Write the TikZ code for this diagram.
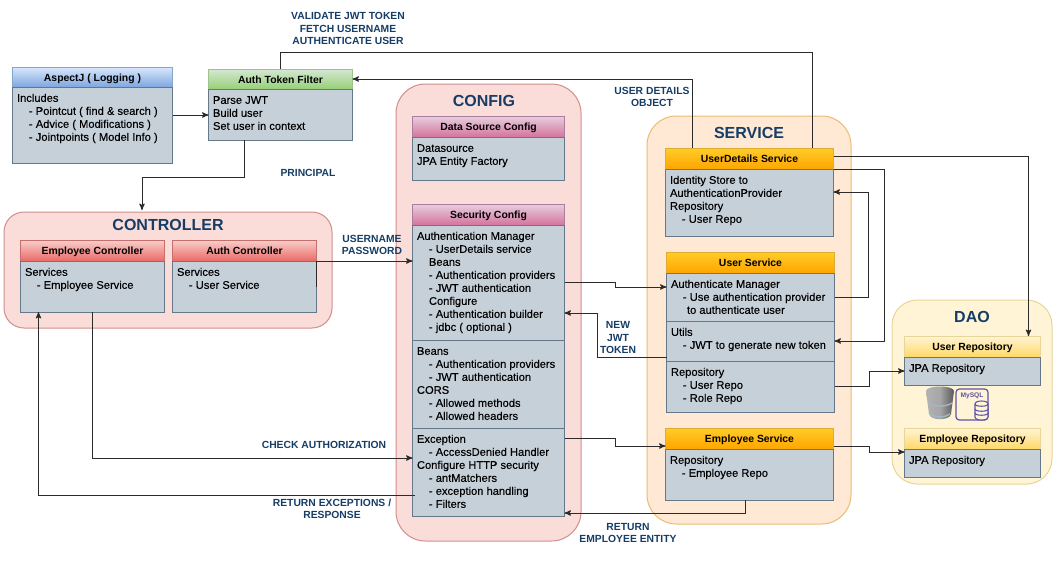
\documentclass[tikz,border=0pt]{standalone}
\usepackage{fontspec}
\setmainfont{Liberation Sans}
\newfontfamily\mediumfont[FakeBold=0.2]{Liberation Sans}
\usetikzlibrary{positioning, arrows}
\definecolor{navy}{HTML}{163D66}
\definecolor{slate}{HTML}{C6D0D9}
\definecolor{slateline}{HTML}{64788A}
\definecolor{wire}{HTML}{2B2B2B}
\definecolor{iconline}{HTML}{5F52A8}
\definecolor{redfill}{HTML}{FADCD9}
\definecolor{redline}{HTML}{D08F8B}
\definecolor{orangefill}{HTML}{FFE9D4}
\definecolor{orangeline}{HTML}{E9BC72}
\definecolor{yellowfill}{HTML}{FFF4D6}
\definecolor{yellowline}{HTML}{E7D697}
\newdimen\px
\px=0.75pt
\newcommand{\ind}{\hspace*{9pt}}
% text of a body box: width, height, lines
\newcommand{\boxlines}[3]{\parbox[c][#2\px][t]{\dimexpr#1\px-1\px\relax}{\vspace*{4.3pt}\raggedright\strut #3}}
\tikzset{
>=stealth', % arrow heads of the connectors
node distance=0pt, % boxes sit directly on one another
outer sep=0pt,
wide/.style={minimum width=#1*0.75pt},
high/.style={minimum height=#1*0.75pt},
group/.style={draw, anchor=north west, line width=0.75pt},
title/.style={font=\fontsize{12}{14}\selectfont\bfseries, text=navy, inner sep=0pt, yshift=-0.75pt},
note/.style={font=\fontsize{7.75}{9.3}\selectfont\bfseries, text=navy, align=center, inner sep=0pt, yshift=-0.6pt},
head/.style={anchor=north west, minimum height=15.75pt, inner sep=0pt, text height=7pt, text depth=0.4pt, line width=0.7pt, font=\fontsize{7.8}{10}\selectfont\bfseries},
bluehead/.style={head, draw=HTMLblue, top color=HTMLbluetop, bottom color=HTMLbluebot},
greenhead/.style={head, draw=HTMLgreen, top color=HTMLgreentop, bottom color=HTMLgreenbot},
redhead/.style={head, draw=HTMLred, top color=HTMLredtop, bottom color=HTMLredbot},
pinkhead/.style={head, draw=HTMLpink, top color=HTMLpinktop, bottom color=HTMLpinkbot},
orangehead/.style={head, draw=HTMLorange, top color=HTMLorangetop, bottom color=HTMLorangebot},
yellowhead/.style={head, draw=yellowline, top color=yellowfill, bottom color=HTMLyellowbot},
body/.style={draw=slateline, fill=slate, inner sep=0pt, inner xsep=3.375pt, line width=0.75pt, font=\mediumfont\fontsize{8.35}{9.75}\selectfont},
link/.style={draw=wire, line width=0.75pt},
arrowlink/.style={link, ->},
}
\definecolor{HTMLblue}{HTML}{86A5CC}
\definecolor{HTMLbluetop}{HTML}{DAE8FC}
\definecolor{HTMLbluebot}{HTML}{7EA6E0}
\definecolor{HTMLgreen}{HTML}{9CC489}
\definecolor{HTMLgreentop}{HTML}{D5E8D4}
\definecolor{HTMLgreenbot}{HTML}{97D077}
\definecolor{HTMLred}{HTML}{C46F6B}
\definecolor{HTMLredtop}{HTML}{F8CECC}
\definecolor{HTMLredbot}{HTML}{EA6B66}
\definecolor{HTMLpink}{HTML}{AD7E9C}
\definecolor{HTMLpinktop}{HTML}{E6D0DE}
\definecolor{HTMLpinkbot}{HTML}{D5739D}
\definecolor{HTMLorange}{HTML}{E0AD33}
\definecolor{HTMLorangetop}{HTML}{FFCD28}
\definecolor{HTMLorangebot}{HTML}{FFA500}
\definecolor{HTMLyellowbot}{HTML}{FFD966}

\begin{document}
\begin{tikzpicture}[x=0.75pt, y=-0.75pt]
    \useasboundingbox (0,0) rectangle (1057,561);

    % groups
    \node[group, wide=328, high=116, rounded corners=15pt, draw=redline, fill=redfill] (controllerGroup) at (4,212) {};
    \node[group, wide=185, high=457, rounded corners=22pt, draw=redline, fill=redfill] (configGroup) at (396,84) {};
    \node[group, wide=204, high=408, rounded corners=22pt, draw=orangeline, fill=orangefill] (serviceGroup) at (647,116) {};
    \node[group, wide=160, high=184, rounded corners=19pt, draw=yellowline, fill=yellowfill] (daoGroup) at (892,300) {};
    \node[title] (controllerTitle) at (168,224) {CONTROLLER};
    \node[title] (configTitle) at (484,100) {CONFIG};
    \node[title] (serviceTitle) at (749,132) {SERVICE};
    \node[title] (daoTitle) at (972,316) {DAO};

    % aspect and filter
    \node[bluehead, wide=160, high=20] (aspectHead) at (12.5,67) {AspectJ ( Logging )};
    \node[body, below=of aspectHead] (aspectBody) {\boxlines{152}{76}{Includes\\\ind- Pointcut ( find \& search )\\\ind- Advice ( Modifications )\\\ind- Jointpoints ( Model Info )}};
    \node[greenhead, wide=144, high=20] (filterHead) at (208.5,69) {Auth Token Filter};
    \node[body, below=of filterHead] (filterBody) {\boxlines{136}{51}{Parse JWT\\Build user\\Set user in context}};

    % controllers
    \node[redhead, wide=144] (employeeCtrlHead) at (20.5,240) {Employee Controller};
    \node[body, below=of employeeCtrlHead] (employeeCtrlBody) {\boxlines{136}{51}{Services\\\ind- Employee Service}};
    \node[redhead, wide=144] (authCtrlHead) at (172.5,240) {Auth Controller};
    \node[body, below=of authCtrlHead] (authCtrlBody) {\boxlines{136}{51}{Services\\\ind- User Service}};

    % config
    \node[pinkhead, wide=152] (dataHead) at (412.5,116) {Data Source Config};
    \node[body, below=of dataHead] (dataBody) {\boxlines{144}{43}{Datasource\\JPA Entity Factory}};
    \node[pinkhead, wide=152] (securityHead) at (412.5,204) {Security Config};
    \node[body, below=of securityHead] (securityMain) {\boxlines{144}{115}{Authentication Manager\\\ind- UserDetails service\\\ind Beans\\\ind- Authentication providers\\\ind- JWT authentication\\\ind Configure\\\ind- Authentication builder\\\ind- jdbc ( optional )}};
    \node[body, below=of securityMain] (securityBeans) {\boxlines{144}{88}{Beans\\\ind- Authentication providers\\\ind- JWT authentication\\CORS\\\ind- Allowed methods\\\ind- Allowed headers}};
    \node[body, below=of securityBeans] (securityExc) {\boxlines{144}{88}{Exception\\\ind- AccessDenied Handler\\Configure HTTP security\\\ind- antMatchers\\\ind- exception handling\\\ind- Filters}};

    % services
    \node[orangehead, wide=168] (userDetailsHead) at (665.5,148) {UserDetails Service};
    \node[body, below=of userDetailsHead] (userDetailsBody) {\boxlines{160}{67}{Identity Store to\\AuthenticationProvider\\Repository\\\ind- User Repo}};
    \node[orangehead, wide=168] (userHead) at (666.5,252) {User Service};
    \node[body, below=of userHead] (userAuthBody) {\boxlines{160}{48}{Authenticate Manager\\\ind- Use authentication provider\\\ind\hspace*{3pt}to authenticate user}};
    \node[body, below=of userAuthBody] (userUtils) {\boxlines{160}{40}{Utils\\\ind- JWT to generate new token}};
    \node[body, below=of userUtils] (userRepoList) {\boxlines{160}{51}{Repository\\\ind- User Repo\\\ind- Role Repo}};
    \node[orangehead, wide=168] (employeeHead) at (665.5,428) {Employee Service};
    \node[body, below=of employeeHead] (employeeBody) {\boxlines{160}{51}{Repository\\\ind- Employee Repo}};

    % dao
    \node[yellowhead, wide=136] (userRepoHead) at (904.5,336) {User Repository};
    \node[body, below=of userRepoHead] (userRepoBody) {\boxlines{128}{28}{JPA Repository}};
    \node[yellowhead, wide=136] (empRepoHead) at (904.5,428) {Employee Repository};
    \node[body, below=of empRepoHead] (empRepoBody) {\boxlines{128}{28}{JPA Repository}};

    % database icons
    \path[left color=gray!60, right color=black!65, middle color=gray!70] (926,391) .. controls (926,385) and (954,385) .. (954,391) -- (951,414) .. controls (950,421) and (930,421) .. (929,414) -- cycle;
    \draw[cyan!30!gray!70, line width=1pt] (928,403) .. controls (934,407) and (946,407) .. (952,403);
    \draw[cyan!30!gray!70, line width=1pt] (930,414) .. controls (936,418) and (944,418) .. (950,414);
    \draw[iconline, line width=0.9pt, rounded corners=2.5pt] (956,389) rectangle (988,420);
    \node[font=\fontsize{5}{6}\selectfont\bfseries, text=iconline, inner sep=0pt] (mysqlLabel) at (972,396) {MySQL};
    \draw[iconline, line width=0.8pt, fill=yellowfill] (975,404) -- (975,417) .. controls (975,421) and (988,421) .. (988,417) -- (988,404) .. controls (988,400) and (975,400) .. (975,404) -- cycle;
    \draw[iconline, line width=0.8pt] (975,409) .. controls (975,412) and (988,412) .. (988,409) (975,413) .. controls (975,416) and (988,416) .. (988,413) (975,404) .. controls (975,407) and (988,407) .. (988,404);

    % connectors
    \draw[arrowlink] ([yshift=-21pt]aspectBody.north east) -- ([yshift=-19.5pt]filterBody.north west);
    \draw[arrowlink, shorten >=1.5pt] ([xshift=-27pt]filterBody.south) -- ++(0,37) -| ([xshift=-19.5pt]controllerGroup.north);
    \draw[link] (filterHead.north) -- ++(0,-17) -| ([xshift=47.25pt]userDetailsHead.north);
    \draw[arrowlink] ([xshift=-42.75pt]userDetailsHead.north) |- (filterHead.east);
    \draw[arrowlink] ([yshift=-19.5pt]authCtrlBody.north east) -- (authCtrlBody.north east) -- ([yshift=-27pt]securityMain.north west);
    \draw[arrowlink] ([yshift=-42.75pt]securityMain.north east) -- ++(51,0) |- ([yshift=-10.5pt]userAuthBody.north west);
    \draw[arrowlink] ([yshift=-27pt]userUtils.north west) -- ++(-69,0) |- ([yshift=-66pt]securityMain.north east);
    \draw[arrowlink] ([yshift=-7.5pt]securityExc.north east) -- ++(51,0) |- ([yshift=-13.5pt]employeeHead.north west);
    \draw[arrowlink] ([xshift=-3pt]employeeBody.south) |- ([yshift=2.25pt]securityExc.south east);
    \draw[arrowlink] ([yshift=-13.5pt]employeeHead.north east) -- ++(36,0) |- ([yshift=-2.25pt]empRepoBody.north west);
    \draw[arrowlink] ([yshift=-18.75pt]userRepoList.north east) -- ++(35,0) |- ([yshift=-10.5pt]userRepoBody.north west);
    \draw[arrowlink] ([yshift=-6pt]userDetailsHead.north east) -| ([xshift=42pt]userRepoHead.north);
    \draw[arrowlink] (userDetailsBody.north east) -- ++(51,0) |- ([yshift=-15pt]userUtils.north east);
    \draw[arrowlink] ([yshift=-18pt]userAuthBody.north east) -- ++(34,0) |- ([yshift=-17.25pt]userDetailsBody.north east);
    \draw[arrowlink] (employeeCtrlBody.south) |- ([yshift=-22.5pt]securityExc.north west);
    \draw[arrowlink] ([xshift=1.5pt,yshift=-50.25pt]securityExc.north west) -| ([xshift=-40.5pt]employeeCtrlBody.south);

    % labels
    \node[note] (validateNote) at (348,28) {VALIDATE JWT TOKEN\\FETCH USERNAME\\AUTHENTICATE USER};
    \node[note] (principalNote) at (308,172) {PRINCIPAL};
    \node[note] (credentialNote) at (372,244) {USERNAME\\PASSWORD};
    \node[note] (detailsNote) at (652,96) {USER DETAILS\\OBJECT};
    \node[note] (tokenNote) at (618,337) {NEW\\JWT\\TOKEN};
    \node[note] (checkNote) at (324,444) {CHECK AUTHORIZATION};
    \node[note] (exceptionNote) at (332,508) {RETURN EXCEPTIONS /\\RESPONSE};
    \node[note] (entityNote) at (628,532) {RETURN\\EMPLOYEE ENTITY};
\end{tikzpicture}
\end{document}
